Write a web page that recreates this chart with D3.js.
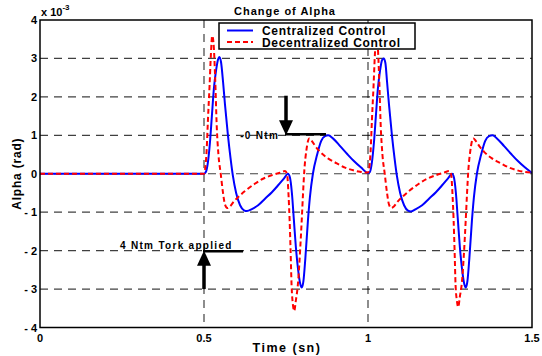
<!DOCTYPE html>
<html>
<head>
<meta charset="utf-8">
<script src="https://cdn.jsdelivr.net/npm/d3@7"></script>
<style>
  body { margin: 0; background: #fff; }
  svg { display: block; font-family: "Liberation Sans", Arial, sans-serif; font-weight: bold; }
</style>
</head>
<body>
<div class="chart"></div>
<script>
// values are in units of 1e-3 rad
const xTicks = [0, 0.5, 1, 1.5];
const yTicks = [-4, -3, -2, -1, 0, 1, 2, 3, 4];
const seriesNames = ["Centralized Control", "Decentralized Control"];

const centralized = [
    [0, 0], [0.5, 0], [0.506, 0.05], [0.512, 0.3], [0.518, 0.8], [0.524, 1.5], [0.530, 2.2],
    [0.537, 2.7], [0.543, 2.98], [0.547, 3.04], [0.552, 2.9], [0.558, 2.4], [0.564, 1.8],
    [0.573, 1.0], [0.581, 0.4], [0.588, -0.05], [0.598, -0.5], [0.610, -0.82], [0.622, -0.95],
    [0.631, -0.97], [0.646, -0.92], [0.665, -0.82], [0.686, -0.65], [0.707, -0.48], [0.726, -0.3],
    [0.744, -0.12], [0.756, 0.0], [0.762, -0.1], [0.768, -0.5], [0.774, -1.2], [0.780, -1.9],
    [0.787, -2.5], [0.793, -2.85], [0.798, -2.96], [0.803, -2.8], [0.809, -2.2], [0.817, -1.2],
    [0.823, -0.6], [0.832, 0.0], [0.845, 0.5], [0.857, 0.85], [0.869, 0.98], [0.879, 1.0],
    [0.893, 0.92], [0.915, 0.72], [0.936, 0.52], [0.957, 0.33], [0.979, 0.16], [1.0, 0.02],
    [1.006, 0.05], [1.012, 0.3], [1.018, 0.8], [1.024, 1.5], [1.030, 2.2], [1.037, 2.7],
    [1.043, 2.96], [1.048, 3.0], [1.053, 2.88], [1.058, 2.4], [1.064, 1.8], [1.073, 1.0],
    [1.081, 0.4], [1.088, -0.05], [1.098, -0.5], [1.110, -0.82], [1.122, -0.96], [1.131, -0.98],
    [1.146, -0.92], [1.165, -0.82], [1.186, -0.65], [1.207, -0.48], [1.226, -0.3], [1.244, -0.12],
    [1.256, 0.0], [1.262, -0.1], [1.268, -0.5], [1.274, -1.2], [1.280, -1.9], [1.287, -2.5],
    [1.293, -2.85], [1.298, -2.96], [1.303, -2.8], [1.309, -2.2], [1.317, -1.2], [1.323, -0.6],
    [1.332, 0.0], [1.345, 0.5], [1.357, 0.85], [1.369, 0.98], [1.380, 1.0], [1.393, 0.92],
    [1.415, 0.72], [1.436, 0.52], [1.457, 0.33], [1.479, 0.16], [1.5, 0.02]
];

const decentralized = [
    [0, 0], [0.5, 0], [0.503, 0.1], [0.508, 0.6], [0.512, 1.4], [0.517, 2.3], [0.521, 3.1],
    [0.525, 3.59], [0.529, 3.4], [0.534, 2.5], [0.539, 1.2], [0.544, 0.5], [0.551, 0.0],
    [0.558, -0.5], [0.564, -0.8], [0.571, -0.89], [0.579, -0.85], [0.591, -0.72], [0.605, -0.6],
    [0.625, -0.45], [0.655, -0.26], [0.680, -0.13], [0.706, -0.04], [0.732, 0.03], [0.747, 0.07],
    [0.753, 0.0], [0.758, -0.6], [0.761, -1.2], [0.764, -2.0], [0.767, -2.9], [0.771, -3.4],
    [0.775, -3.57], [0.780, -3.3], [0.786, -2.9], [0.793, -2.0], [0.798, -1.2], [0.802, -0.5],
    [0.806, 0.1], [0.812, 0.6], [0.821, 0.92], [0.829, 0.85], [0.841, 0.7], [0.854, 0.57],
    [0.878, 0.4], [0.905, 0.27], [0.930, 0.16], [0.955, 0.09], [0.976, 0.05], [1.0, 0.03],
    [1.003, 0.1], [1.008, 0.6], [1.012, 1.4], [1.017, 2.3], [1.021, 3.1], [1.025, 3.55],
    [1.029, 3.4], [1.034, 2.5], [1.039, 1.2], [1.044, 0.5], [1.051, 0.0], [1.058, -0.5],
    [1.064, -0.8], [1.071, -0.89], [1.079, -0.85], [1.091, -0.72], [1.105, -0.6], [1.125, -0.45],
    [1.155, -0.26], [1.180, -0.13], [1.206, -0.04], [1.232, 0.03], [1.247, 0.07], [1.253, 0.0],
    [1.258, -0.6], [1.261, -1.2], [1.264, -2.0], [1.267, -2.9], [1.271, -3.3], [1.275, -3.47],
    [1.280, -3.2], [1.286, -2.85], [1.293, -2.0], [1.298, -1.2], [1.302, -0.5], [1.306, 0.1],
    [1.312, 0.6], [1.321, 0.92], [1.329, 0.85], [1.341, 0.7], [1.354, 0.57], [1.378, 0.4],
    [1.405, 0.27], [1.430, 0.16], [1.455, 0.09], [1.476, 0.05], [1.5, 0.03]
];

const width = 542, height = 356;
const margin = { top: 20, right: 10, bottom: 28.5, left: 40 };

const svg = d3.select(".chart")
    .append("svg")
    .attr("width", width)
    .attr("height", height);

svg.append("rect").attr("width", width).attr("height", height).attr("fill", "#fff");

const x = d3.scaleLinear()
    .domain([0, 1.5])
    .range([margin.left, width - margin.right]);

const y = d3.scaleLinear()
    .domain([-4, 4])
    .range([height - margin.bottom, margin.top]);

// dashed grid
const grid = svg.append("g")
    .attr("stroke", "#000")
    .attr("stroke-width", 1.2)
    .attr("stroke-opacity", 0.75)
    .attr("stroke-dasharray", "8,6");

grid.selectAll(".gy")
    .data(yTicks.filter(d => d > -4 && d < 4))
    .join("line")
    .attr("x1", x(0)).attr("x2", x(1.5))
    .attr("y1", d => y(d)).attr("y2", d => y(d));

grid.selectAll(".gx")
    .data(xTicks.filter(d => d > 0 && d < 1.5))
    .join("line")
    .attr("x1", d => x(d)).attr("x2", d => x(d))
    .attr("y1", y(4)).attr("y2", y(-4));

// series
svg.append("clipPath").attr("id", "plot-clip")
    .append("rect")
    .attr("x", x(0)).attr("y", y(4))
    .attr("width", x(1.5) - x(0)).attr("height", y(-4) - y(4));

const line = d3.line()
    .x(d => x(d[0]))
    .y(d => y(d[1]))
    .curve(d3.curveMonotoneX);

const plot = svg.append("g").attr("clip-path", "url(#plot-clip)");

plot.append("path")
    .datum(centralized)
    .attr("fill", "none")
    .attr("stroke", "#0000ff")
    .attr("stroke-width", 2)
    .attr("d", line);

plot.append("path")
    .datum(decentralized)
    .attr("fill", "none")
    .attr("stroke", "#ff0000")
    .attr("stroke-width", 2)
    .attr("stroke-dasharray", "5,3")
    .attr("d", line);

// axes box
svg.append("rect")
    .attr("x", x(0)).attr("y", y(4))
    .attr("width", x(1.5) - x(0)).attr("height", y(-4) - y(4))
    .attr("fill", "none")
    .attr("stroke", "#000")
    .attr("stroke-width", 1.5);

// tick labels
svg.selectAll(".ytick")
    .data(yTicks)
    .join("text")
    .attr("x", x(0) - 3)
    .attr("y", d => y(d) + 4)
    .attr("text-anchor", "end")
    .attr("font-size", 11)
    .text(d => d < 0 ? "- " + Math.abs(d) : d);

svg.selectAll(".xtick")
    .data(xTicks)
    .join("text")
    .attr("x", d => x(d))
    .attr("y", y(-4) + 14)
    .attr("text-anchor", "middle")
    .attr("font-size", 11)
    .text(d => d);

// exponent
const expo = svg.append("text")
    .attr("x", x(0) + 1)
    .attr("y", y(4) - 4)
    .attr("font-size", 11);
expo.append("tspan").text("x 10");
expo.append("tspan").attr("dy", -6).attr("font-size", 8).text("-3");

// title and axis labels
svg.append("text")
    .attr("x", 285)
    .attr("y", 15)
    .attr("text-anchor", "middle")
    .attr("font-size", 11)
    .attr("letter-spacing", 1)
    .text("Change of Alpha");

svg.append("text")
    .attr("x", 287)
    .attr("y", 352)
    .attr("text-anchor", "middle")
    .attr("font-size", 12.5)
    .attr("letter-spacing", 1.5)
    .text("Time (sn)");

svg.append("text")
    .attr("transform", `translate(21, ${y(0)}) rotate(-90)`)
    .attr("text-anchor", "middle")
    .attr("font-size", 12)
    .attr("letter-spacing", 0.8)
    .text("Alpha (rad)");

// annotations
const ann = svg.append("g");

function arrow(xv, fromV, toV) {
    const x0 = x(xv), y0 = y(fromV), y1 = y(toV);
    const dir = y1 > y0 ? 1 : -1;
    ann.append("line")
        .attr("x1", x0).attr("x2", x0)
        .attr("y1", y0).attr("y2", y1 - dir * 12)
        .attr("stroke", "#000").attr("stroke-width", 3.5);
    ann.append("path")
        .attr("d", `M${x0 - 7},${y1 - dir * 15} L${x0 + 7},${y1 - dir * 15} L${x0},${y1} Z`)
        .attr("fill", "#000");
}

arrow(0.75, 2.03, 1.0);
ann.append("line")
    .attr("x1", x(0.747)).attr("x2", x(0.872))
    .attr("y1", y(1.0) - 1).attr("y2", y(1.0) - 1)
    .attr("stroke", "#000").attr("stroke-width", 2.5);
ann.append("text")
    .attr("x", x(0.729))
    .attr("y", y(1.0) + 4)
    .attr("text-anchor", "end")
    .attr("font-size", 10)
    .attr("letter-spacing", 1.3)
    .text("-0 Ntm");

arrow(0.5, -3.0, -2.0);
ann.append("line")
    .attr("x1", x(0.497)).attr("x2", x(0.619))
    .attr("y1", y(-2.0) + 0.5).attr("y2", y(-2.0) + 0.5)
    .attr("stroke", "#000").attr("stroke-width", 2.5);
ann.append("text")
    .attr("x", x(0.244))
    .attr("y", y(-2.0) - 1.5)
    .attr("font-size", 10)
    .attr("letter-spacing", 1.3)
    .text("4 Ntm Tork applied");

// legend
const legend = svg.append("g").attr("transform", "translate(219, 23)");
legend.append("rect")
    .attr("width", 196).attr("height", 26)
    .attr("fill", "#fff").attr("stroke", "#000").attr("stroke-width", 1.5);

const legendColor = ["#0000ff", "#ff0000"];
const legendDash = [null, "5,3"];
const items = legend.selectAll(".item")
    .data(seriesNames)
    .join("g")
    .attr("transform", (d, i) => `translate(0, ${7.5 + i * 11.5})`);

items.append("line")
    .attr("x1", 8).attr("x2", 34)
    .attr("stroke", (d, i) => legendColor[i])
    .attr("stroke-width", 2)
    .attr("stroke-dasharray", (d, i) => legendDash[i]);

items.append("text")
    .attr("x", 43)
    .attr("y", 4.5)
    .attr("font-size", 12)
    .attr("letter-spacing", 0.7)
    .text(d => d);
</script>
</body>
</html>
